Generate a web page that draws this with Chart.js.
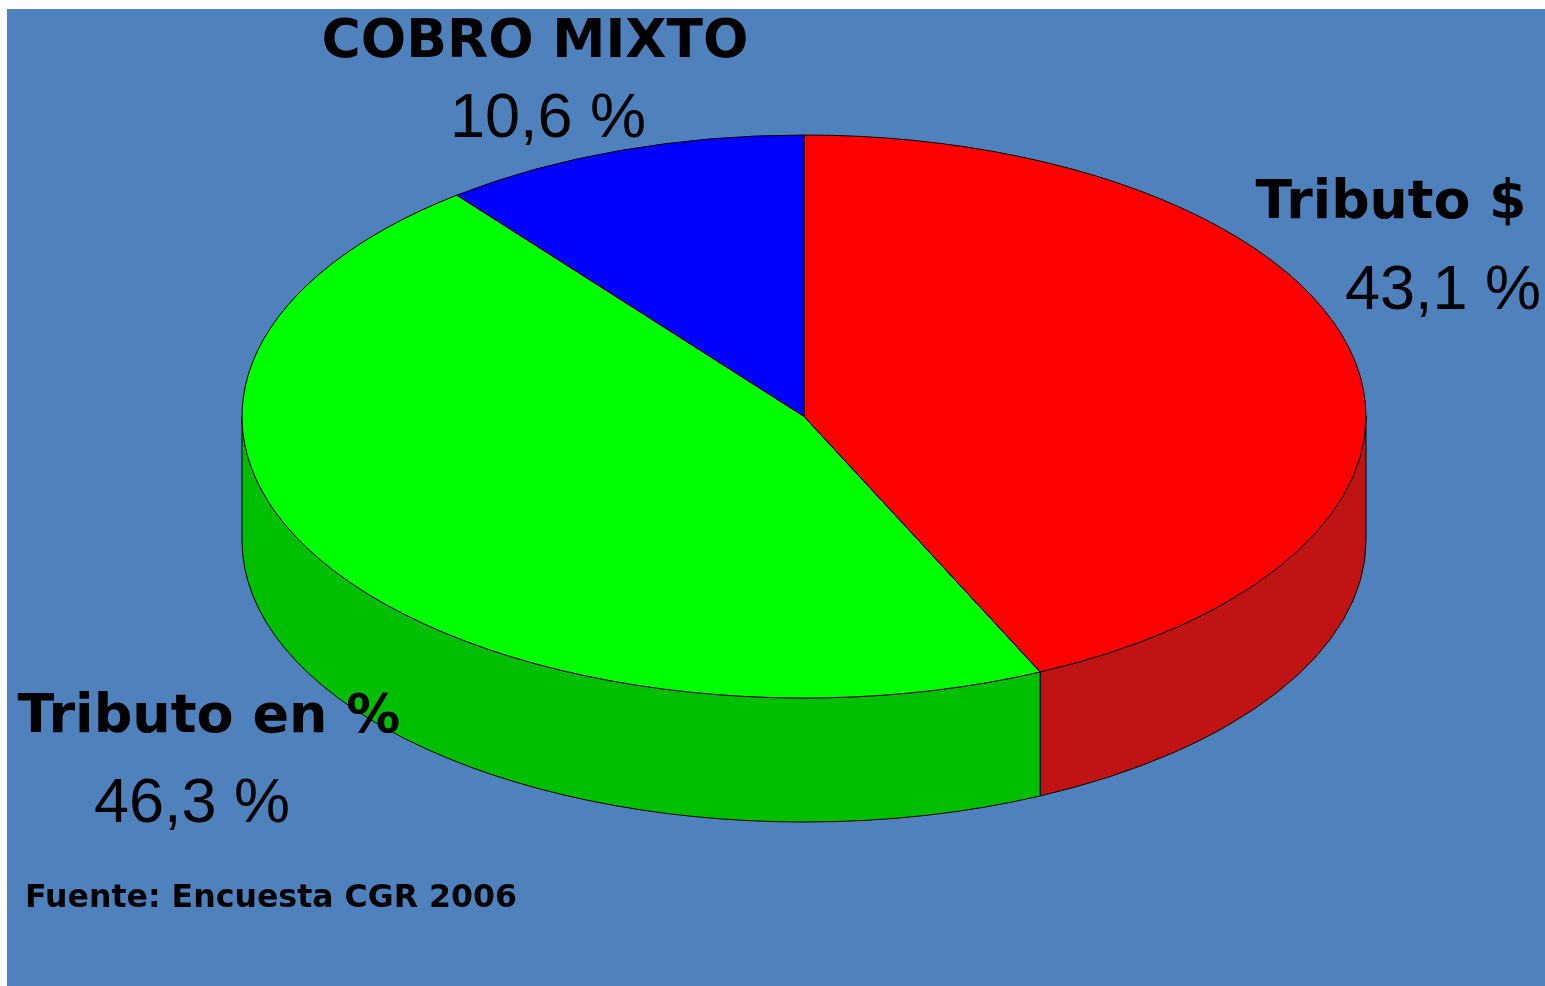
<!DOCTYPE html>
<html>
<head>
<meta charset="utf-8">
<script src="https://cdn.jsdelivr.net/npm/chart.js@4"></script>
<style>
  html, body { margin: 0; padding: 0; background: #ffffff; }
  canvas { display: block; }
</style>
</head>
<body>
<canvas id="pie3d" width="1545" height="986"></canvas>
<script>
// data
const labels = ['Tributo $', 'Tributo en %', 'COBRO MIXTO'];
const values = [43.1, 46.3, 10.6];
const topColors = ['#ff0000', '#00ff00', '#0000ff'];
const sideColors = ['#c01414', '#00bf00', '#0000b0'];
const source = 'Fuente: Encuesta CGR 2006';

// layout of the flattened pie
const W = 1545, H = 986;
const cx = 804, cy = 416.5;
const rx = 562, ry = 281.5;
const depth = 124;

// where each label goes (name centre x, name baseline, value centre x, value baseline)
const labelPos = [
  { nx: 1391, ny: 218, nw: 271, vx: 1443, vy: 309 },
  { nx: 209, ny: 732, nw: 391, vx: 192, vy: 822 },
  { nx: 535, ny: 57, nw: 427, vx: 548, vy: 137 }
];

function fmt(v) {
  return v.toFixed(1).replace('.', ',') + ' %';
}

// paints background, side walls, squashes the pie into an ellipse, outlines and labels
const pie3d = {
  id: 'pie3d',
  beforeDraw(chart) {
    const ctx = chart.ctx;
    ctx.save();
    ctx.fillStyle = '#ffffff';
    ctx.fillRect(0, 0, W, H);
    ctx.fillStyle = '#4f81bd';
    ctx.fillRect(7, 9, W - 7, H - 9);
    ctx.restore();
  },
  beforeDatasetsDraw(chart) {
    const ctx = chart.ctx;
    const arcs = chart.getDatasetMeta(0).data;
    ctx.save();
    ctx.lineWidth = 1;
    ctx.strokeStyle = '#000000';
    arcs.forEach((arc, i) => {
      // only the front half (0..PI) of the wall is visible
      [0, 2 * Math.PI].forEach(k => {
        const s = Math.max(arc.startAngle, k);
        const e = Math.min(arc.endAngle, k + Math.PI);
        if (e <= s) return;
        ctx.beginPath();
        ctx.ellipse(cx, cy, rx, ry, 0, s, e);
        ctx.ellipse(cx, cy + depth, rx, ry, 0, e, s, true);
        ctx.closePath();
        ctx.fillStyle = sideColors[i];
        ctx.fill();
        ctx.stroke();
      });
    });
    ctx.restore();

    // squash the circle of the library into the top ellipse
    ctx.save();
    ctx.translate(cx, cy);
    ctx.scale(rx / ry, 1);
    ctx.translate(-arcs[0].x, -arcs[0].y);
  },
  afterDatasetsDraw(chart) {
    const ctx = chart.ctx;
    ctx.restore();
    const arcs = chart.getDatasetMeta(0).data;
    ctx.save();
    ctx.lineWidth = 1;
    ctx.strokeStyle = '#000000';
    arcs.forEach(arc => {
      ctx.beginPath();
      ctx.moveTo(cx, cy);
      ctx.ellipse(cx, cy, rx, ry, 0, arc.startAngle, arc.endAngle);
      ctx.closePath();
      ctx.stroke();
    });
    ctx.restore();
  },
  afterDraw(chart) {
    const ctx = chart.ctx;
    const vals = chart.data.datasets[0].data;
    ctx.save();
    ctx.fillStyle = '#000000';
    ctx.textBaseline = 'alphabetic';
    ctx.textAlign = 'center';
    chart.data.labels.forEach((lab, i) => {
      const p = labelPos[i];
      ctx.font = 'bold 54px "DejaVu Sans"';
      ctx.fillText(lab, p.nx, p.ny, p.nw);
      ctx.font = '63px "Liberation Sans"';
      ctx.fillText(fmt(vals[i]), p.vx, p.vy);
    });
    ctx.textAlign = 'left';
    ctx.font = 'bold 32px "DejaVu Sans"';
    ctx.fillText(source, 25, 907, 492);
    ctx.restore();
  }
};

const data = {
  labels: labels,
  datasets: [{
    data: values,
    backgroundColor: topColors,
    borderWidth: 0,
    hoverOffset: 0,
    radius: ry
  }]
};

const config = {
  type: 'pie',
  data,
  options: {
    responsive: false,
    devicePixelRatio: 1,
    animation: false,
    events: [],
    layout: {
      padding: { left: 242, right: W - 1366, top: 135, bottom: H - 698 }
    },
    plugins: {
      legend: { display: false },
      tooltip: { enabled: false }
    }
  },
  plugins: [pie3d]
};

const myChart = new Chart(document.getElementById('pie3d'), config);
</script>
</body>
</html>
